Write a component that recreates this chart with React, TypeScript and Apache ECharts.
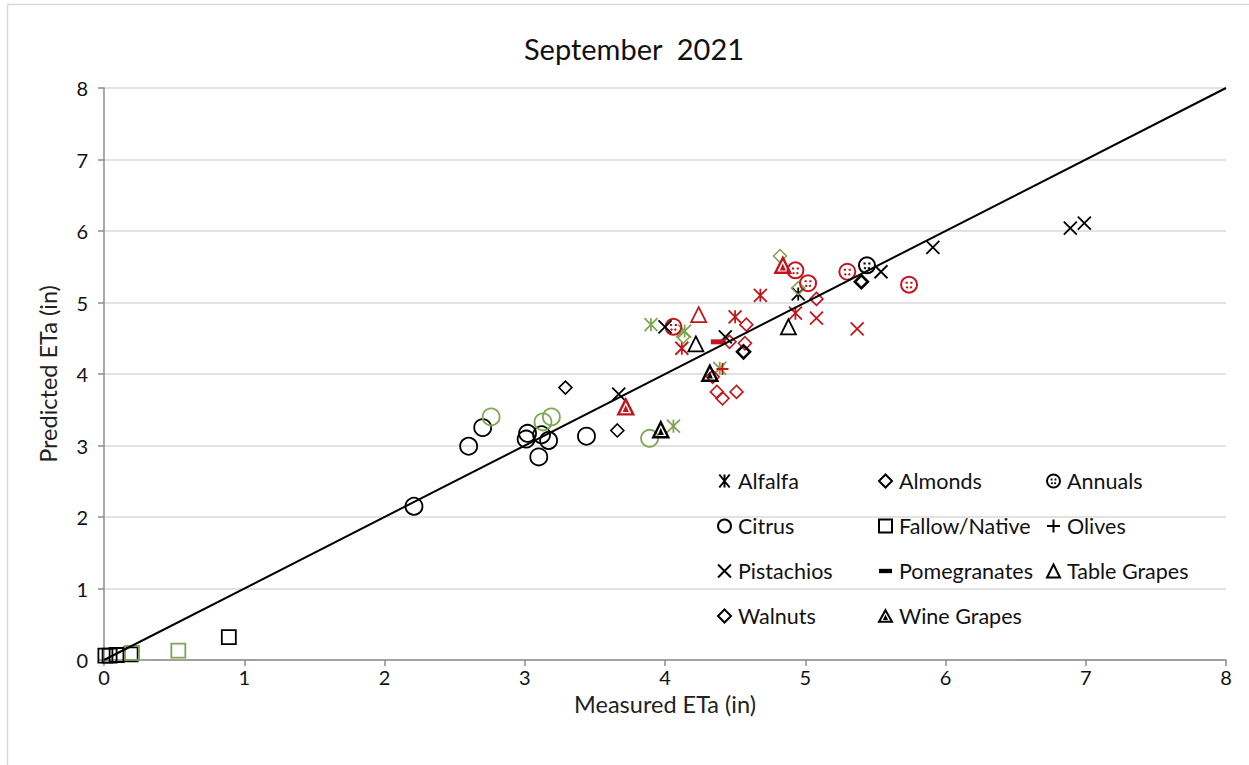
import React, { useEffect, useRef } from "react";
import * as echarts from "echarts";

// [measured, predicted, colour code] — k: black, r: red, g: green
const alfalfa = [
  [4.95, 5.12, "k"],
  [3.9, 4.69, "g"], [4.14, 4.6, "g"], [4.06, 3.27, "g"], [4.39, 4.08, "g"],
  [4.12, 4.36, "r"], [4.5, 4.8, "r"], [4.68, 5.1, "r"], [4.93, 4.85, "r"],
];
const almonds = [
  [3.29, 3.81, "k"], [3.66, 3.21, "k"],
  [4.58, 4.69, "r"], [4.46, 4.45, "r"], [4.57, 4.43, "r"], [4.37, 3.75, "r"],
  [4.41, 3.66, "r"], [4.51, 3.75, "r"], [4.34, 3.96, "r"], [5.08, 5.05, "r"],
  [4.82, 5.65, "g"], [4.13, 4.52, "g"], [4.95, 5.2, "g"],
];
const annuals = [
  [5.44, 5.52, "k"],
  [4.06, 4.66, "r"], [4.93, 5.45, "r"], [5.02, 5.27, "r"], [5.3, 5.43, "r"], [5.74, 5.25, "r"],
];
const citrus = [
  [2.21, 2.15, "k"], [2.6, 2.99, "k"], [2.7, 3.25, "k"], [3.02, 3.17, "k"], [3.01, 3.09, "k"],
  [3.12, 3.15, "k"], [3.17, 3.07, "k"], [3.1, 2.84, "k"], [3.44, 3.13, "k"],
  [2.76, 3.4, "g"], [3.13, 3.33, "g"], [3.19, 3.4, "g"], [3.89, 3.1, "g"],
];
const fallow = [
  [0.01, 0.06, "k"], [0.04, 0.06, "k"], [0.09, 0.07, "k"], [0.19, 0.08, "k"], [0.89, 0.32, "k"],
  [0.2, 0.1, "g"], [0.53, 0.13, "g"],
];
const olives = [[4.41, 4.07, "r"]];
const pistachios = [
  [3.67, 3.72, "k"], [4.0, 4.66, "k"], [4.43, 4.52, "k"], [5.54, 5.43, "k"],
  [5.91, 5.77, "k"], [6.89, 6.04, "k"], [6.99, 6.11, "k"],
  [5.08, 4.78, "r"], [5.37, 4.63, "r"],
];
const pomegranates = [[4.38, 4.45, "r"]];
const tableGrapes = [[4.22, 4.42, "k"], [4.88, 4.66, "k"], [4.24, 4.83, "r"]];
const walnuts = [[4.56, 4.31, "k"], [5.4, 5.29, "k"]];
const wineGrapes = [[3.97, 3.22, "k"], [4.32, 4.01, "k"], [3.72, 3.54, "r"], [4.84, 5.52, "r"]];

const axisTicks = [0, 1, 2, 3, 4, 5, 6, 7, 8];
const oneToOne = [[0, 0], [8, 8]];

const legendCol1 = ["Alfalfa", "Citrus", "Pistachios", "Walnuts"];
const legendCol2 = ["Almonds", "Fallow/Native", "Pomegranates", "Wine Grapes"];
const legendCol3 = ["Annuals", "Olives", "Table Grapes"];

const COL: Record<string, string> = { k: "#000000", r: "#C3161C", g: "#7FA650" };

const SYM = {
  asterisk: "path://M1,0L9,10M9,0L1,10M5,0L5,10",
  x: "path://M0,0L10,10M10,0L0,10",
  plus: "path://M5,0L5,10M0,5L10,5",
  annual:
    "path://M0,5A5,5,0,1,1,10,5A5,5,0,1,1,0,5ZM2.8,3.8L4.2,3.8M5.8,3.8L7.2,3.8M3.2,6.4L4.4,7M5.6,7L6.8,6.4",
  wine: "path://M5,0L10,9L0,9ZM5,5.2L5.8,6.9L4.2,6.9Z",
  dash: "path://M0,0L15,0L15,5L0,5Z",
};

const FONT = "Lato, 'Open Sans', sans-serif";

function mk(name: string, data: any[], symbol: string, size: number, bw: number, filled = false, keep = false) {
  return {
    type: "scatter",
    name,
    symbol,
    symbolSize: size,
    symbolKeepAspect: keep,
    z: 3,
    itemStyle: {
      color: filled ? "#000" : "rgba(0,0,0,0)",
      borderColor: "#000",
      borderWidth: filled ? 0 : bw,
      opacity: 1,
    },
    emphasis: { disabled: true },
    data: data.map(([x, y, c]) => ({
      value: [x, y],
      itemStyle: filled ? { color: COL[c] } : { borderColor: COL[c] },
    })),
  };
}

function legend(names: string[], left: number) {
  return {
    data: names,
    orient: "vertical",
    left,
    top: 470,
    padding: 0,
    itemGap: 23,
    itemWidth: 13,
    itemHeight: 13,
    selectedMode: false,
    textStyle: { fontFamily: FONT, fontSize: 21.5, color: "#111", padding: [0, 0, 0, 2] },
  };
}

export default function App() {
  const ref = useRef<HTMLDivElement>(null);
  useEffect(() => {
    if (!ref.current) return;
    const chart = echarts.init(ref.current, undefined, { renderer: "svg" });
    const axisCommon = {
      type: "value",
      min: axisTicks[0],
      max: axisTicks[axisTicks.length - 1],
      interval: 1,
      nameLocation: "middle",
      nameMoveOverlap: false,
      nameTextStyle: { fontFamily: FONT, fontSize: 23.5, color: "#222" },
      axisLine: { show: true, lineStyle: { color: "#8c8c8c", width: 1.5 } },
      axisTick: { show: true, inside: false, length: 6, lineStyle: { color: "#8c8c8c", width: 1.5 } },
      axisLabel: { fontFamily: FONT, fontSize: 20, color: "#111" },
    };
    chart.setOption({
      animation: false,
      backgroundColor: "#fff",
      title: {
        text: "September  2021",
        left: 629,
        textAlign: "center",
        top: 29,
        textStyle: { fontFamily: FONT, fontSize: 29, fontWeight: "normal", color: "#111" },
      },
      graphic: [
        {
          type: "rect",
          shape: { x: 7.5, y: 4.5, width: 1400, height: 900 },
          style: { fill: "none", stroke: "#d9d9d9", lineWidth: 1.5 },
          silent: true,
          z: -1,
        },
      ],
      grid: { left: 104, right: 23, top: 88, bottom: 105 },
      xAxis: {
        ...axisCommon,
        name: "Measured ETa (in)",
        nameGap: 35,
        nameTextStyle: { ...axisCommon.nameTextStyle, lineHeight: 18 },
        splitLine: { show: false },
        axisLabel: { ...axisCommon.axisLabel, margin: 9, lineHeight: 16 },
      },
      yAxis: {
        ...axisCommon,
        name: "Predicted ETa (in)",
        nameGap: 44,
        splitLine: { show: true, lineStyle: { color: "#d9d9d9", width: 1.5 } },
        axisLabel: { ...axisCommon.axisLabel, margin: 16 },
      },
      legend: [legend(legendCol1, 717), legend(legendCol2, 878), legend(legendCol3, 1046)],
      series: [
        {
          type: "line",
          data: oneToOne,
          showSymbol: false,
          symbol: "none",
          lineStyle: { color: "#000", width: 2 },
          z: 4,
          silent: true,
        },
        mk("Alfalfa", alfalfa, SYM.asterisk, 13, 1.8),
        mk("Almonds", almonds, "diamond", 13, 1.6),
        mk("Annuals", annuals, SYM.annual, 16, 2),
        mk("Citrus", citrus, "circle", 17, 1.8),
        mk("Fallow/Native", fallow, "rect", 14, 1.8),
        mk("Olives", olives, SYM.plus, 12, 1.8),
        mk("Pistachios", pistachios, SYM.x, 13, 1.8),
        mk("Pomegranates", pomegranates, SYM.dash, 15, 0, true, true),
        mk("Table Grapes", tableGrapes, "triangle", 15, 1.8),
        mk("Walnuts", walnuts, "diamond", 13, 2.6),
        mk("Wine Grapes", wineGrapes, SYM.wine, 15, 2.4),
      ],
    });
    return () => chart.dispose();
  }, []);
  return <div ref={ref} style={{ position: "fixed", left: 0, top: 0, width: 1249, height: 765 }} />;
}
